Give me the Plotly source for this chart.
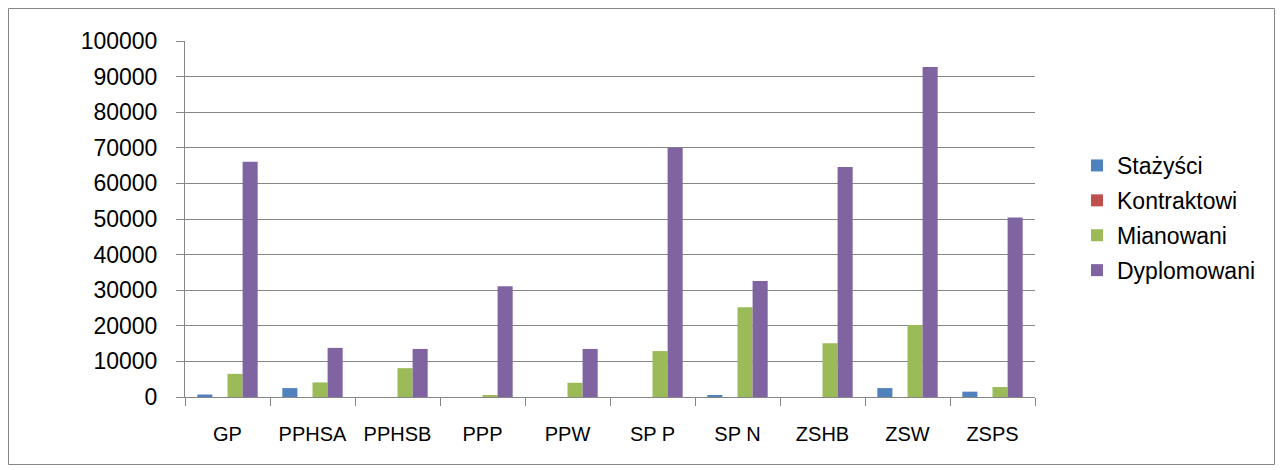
import plotly.graph_objects as go

categories = ["GP", "PPHSA", "PPHSB", "PPP", "PPW", "SP P", "SP N", "ZSHB", "ZSW", "ZSPS"]
stazysci = [700, 2500, 0, 0, 0, 0, 500, 0, 2500, 1500]
kontraktowi = [0, 0, 0, 0, 0, 0, 0, 0, 0, 0]
mianowani = [6500, 4100, 8100, 500, 4000, 12900, 25200, 15100, 20200, 2800]
dyplomowani = [66100, 13800, 13500, 31100, 13500, 70100, 32600, 64600, 92700, 50400]

series = [
    ("Stażyści", stazysci, "#4F81BD"),
    ("Kontraktowi", kontraktowi, "#C0504D"),
    ("Mianowani", mianowani, "#9BBB59"),
    ("Dyplomowani", dyplomowani, "#8064A2"),
]

fig = go.Figure()
for i, (name, vals, col) in enumerate(series):
    fig.add_trace(go.Bar(x=categories, y=vals, name=name, marker_color=col,
                         marker_line_width=0, legendgroup="g%d" % i))

# window coords (figure placed at 8,8 by page margin)
OX, OY = 8, 8
L, R, T, B = 185 - OX, 1035 - OX, 41 - OY, 397 - OY
W, H = 1267, 457
pw, ph = R - L, B - T

def px(x):
    return (x - OX - L) / pw

def py(y):
    return (B - (y - OY)) / ph

fig.update_layout(
    width=W, height=H,
    margin=dict(l=L, r=W - R, t=T, b=H - B, autoexpand=False),
    paper_bgcolor="white", plot_bgcolor="white",
    font=dict(family="Liberation Sans, Arial, sans-serif", size=22, color="black"),
    barmode="group", bargap=0.29, bargroupgap=0,
    showlegend=True,
    legend=dict(x=px(1077), y=py(144), xanchor="left", yanchor="top",
                font=dict(size=23), itemwidth=30, tracegroupgap=2,
                bgcolor="rgba(0,0,0,0)"),
    shapes=[dict(type="rect", xref="paper", yref="paper",
                 x0=px(8.5), x1=px(1274.5), y0=py(464.5), y1=py(8.5),
                 line=dict(color="#868686", width=1), fillcolor="rgba(0,0,0,0)",
                 layer="below")],
)
fig.update_xaxes(type="category", tickson="boundaries", ticks="outside", ticklen=8,
                 tickcolor="#868686", showline=True, linecolor="#868686", linewidth=1,
                 showgrid=False, tickfont=dict(size=20), ticklabelstandoff=19)
fig.update_yaxes(range=[0, 100000], dtick=10000, ticks="outside", ticklen=8,
                 tickcolor="#868686", showline=True, linecolor="#868686", linewidth=1,
                 showgrid=True, gridcolor="#868686", gridwidth=1, zeroline=False,
                 tickfont=dict(size=23), tickformat="d", ticklabelstandoff=14)

fig.write_html("out.html")
